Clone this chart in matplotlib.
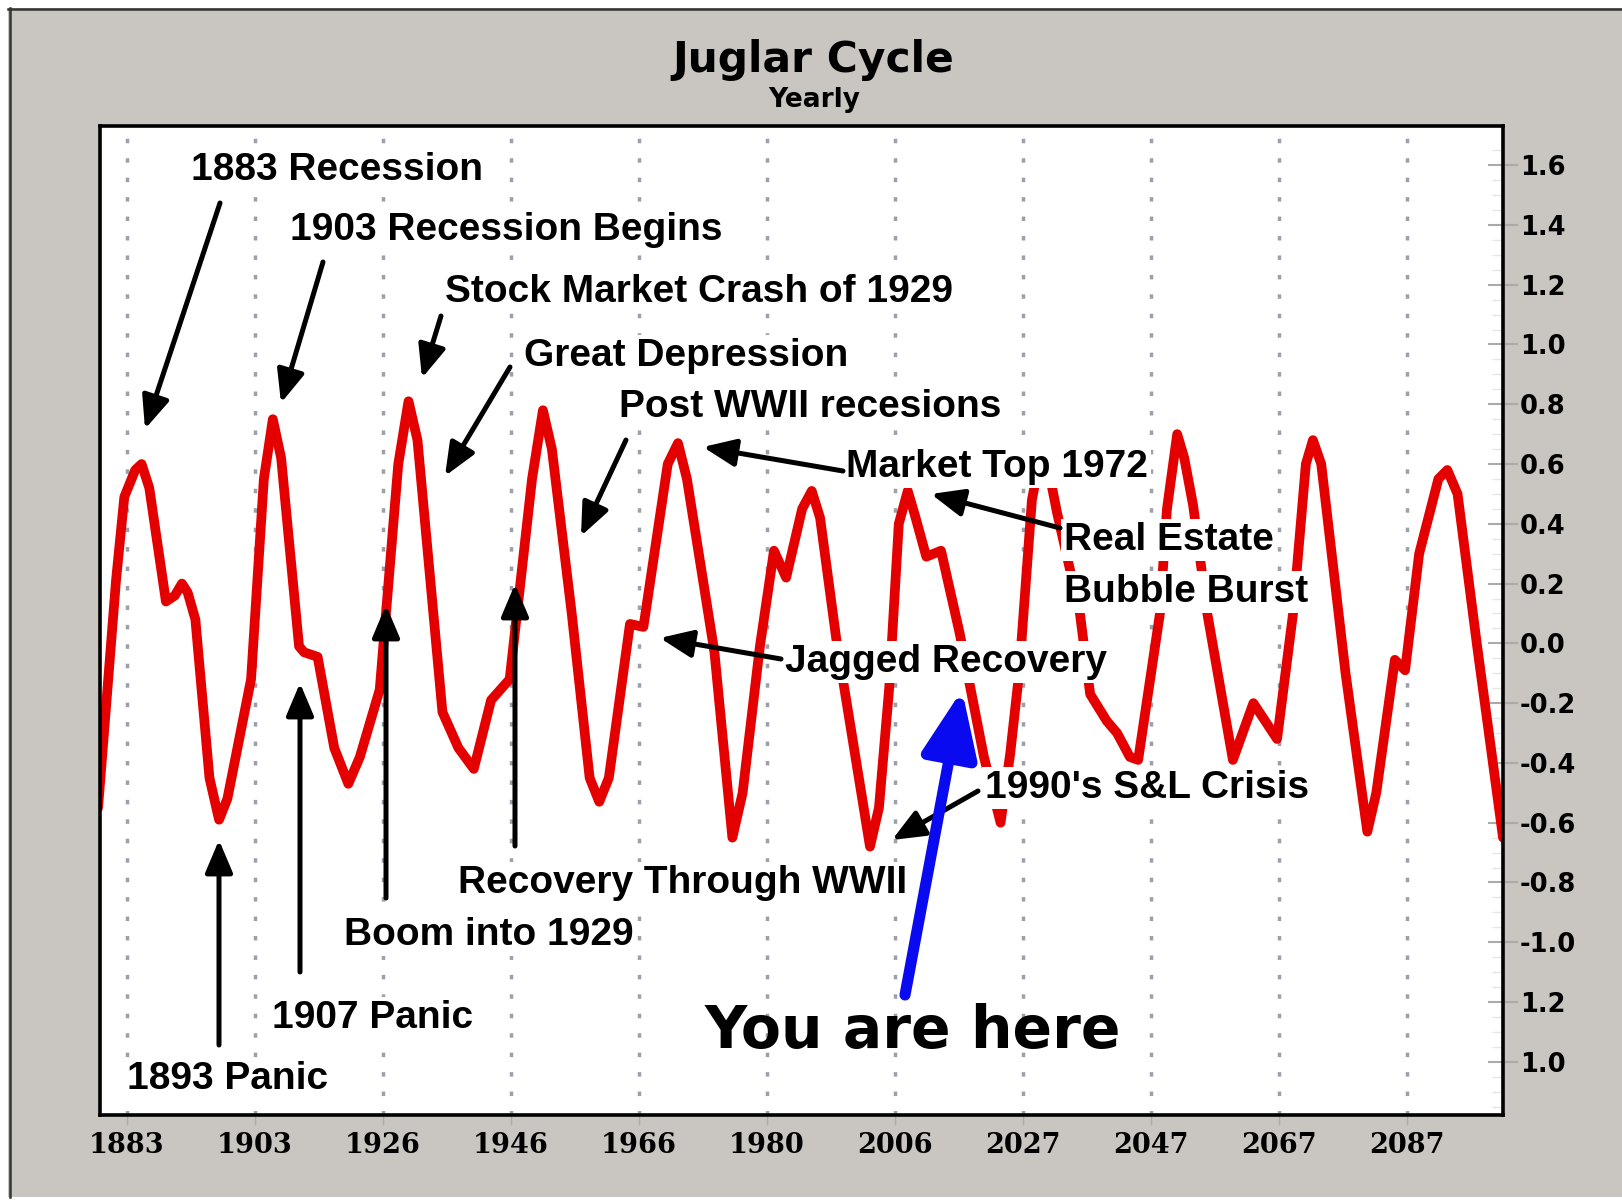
import matplotlib
matplotlib.use("Agg")
import matplotlib.pyplot as plt
from matplotlib.patches import Rectangle
from matplotlib.lines import Line2D

W, H, DPI = 1622, 1203, 100

# ---------------- data ----------------
years = [1878.5, 1881.3, 1882.6, 1884.3, 1885.3, 1886.5, 1889.1, 1890.5, 1891.6, 1892.5,
         1893.7, 1895.9, 1897.4, 1898.7, 1902.4, 1904.4, 1905.8, 1907.1, 1909.9, 1910.7,
         1912.8, 1915.4, 1917.6, 1919.4, 1922.5, 1925.4, 1927.0, 1928.4, 1932.3, 1934.8,
         1937.2, 1939.9, 1942.8, 1946.3, 1948.0, 1949.4, 1952.5, 1955.3, 1956.8, 1958.3,
         1961.6, 1963.7, 1967.5, 1969.1, 1970.5, 1974.8, 1977.6, 1979.2, 1981.9, 1984.1,
         1986.0, 1988.5, 1990.0, 1991.3, 1993.8, 1999.1, 2000.5, 2002.1, 2003.6, 2005.0,
         2006.1, 2007.9, 2010.2, 2013.1, 2016.9, 2019.5, 2021.0, 2022.4, 2024.4, 2025.3,
         2026.2, 2027.2, 2028.3, 2031.9, 2033.5, 2036.1, 2037.7, 2039.7, 2041.0, 2044.4,
         2045.5, 2047.1, 2048.2, 2049.6, 2051.8, 2055.8, 2059.0, 2062.7, 2065.2, 2067.2,
         2068.3, 2069.6, 2073.4, 2076.8, 2078.2, 2081.1, 2082.7, 2084.9, 2087.9, 2089.3,
         2090.9, 2093.9, 2098.0]
values = [-0.55, 0.21, 0.49, 0.58, 0.60, 0.52, 0.14, 0.16, 0.20, 0.17,
          0.08, -0.45, -0.59, -0.52, -0.12, 0.55, 0.75, 0.62, -0.01, -0.03,
          -0.045, -0.35, -0.47, -0.38, -0.155, 0.60, 0.81, 0.68, -0.23, -0.35,
          -0.42, -0.19, -0.12, 0.55, 0.78, 0.65, 0.10, -0.45, -0.53, -0.45,
          0.065, 0.055, 0.60, 0.67, 0.55, -0.03, -0.65, -0.50, -0.01, 0.31,
          0.22, 0.45, 0.51, 0.42, 0.02, -0.68, -0.55, -0.15, 0.40, 0.51,
          0.43, 0.29, 0.31, 0.035, -0.38, -0.60, -0.37, -0.10, 0.48, 0.58,
          0.61, 0.56, 0.44, 0.10, -0.17, -0.26, -0.30, -0.38, -0.39, 0.10,
          0.45, 0.70, 0.62, 0.46, 0.10, -0.39, -0.20, -0.32, 0.10, 0.60,
          0.68, 0.60, -0.10, -0.63, -0.50, -0.055, -0.09, 0.30, 0.55, 0.58,
          0.50, 0.0, -0.65]

xtick_pos = [1883, 1903, 1923, 1943, 1963, 1983, 2003, 2023, 2043, 2063, 2083]
xtick_labels = ["1883", "1903", "1926", "1946", "1966", "1980", "2006", "2027", "2047", "2067", "2087"]
ytick_pos = [1.6, 1.4, 1.2, 1.0, 0.8, 0.6, 0.4, 0.2, 0.0, -0.2, -0.4, -0.6, -0.8, -1.0, -1.2, -1.4]
ytick_labels = ["1.6", "1.4", "1.2", "1.0", "0.8", "0.6", "0.4", "0.2", "0.0",
                "-0.2", "-0.4", "-0.6", "-0.8", "-1.0", "1.2", "1.0"]

title = "Juglar Cycle"
subtitle = "Yearly"

# label texts: (text, left x px, baseline y px from top)
label_texts = ["1883 Recession", "1903 Recession Begins", "Stock Market Crash of 1929",
               "Great Depression", "Post WWII recesions", "Market Top 1972",
               "Real Estate", "Bubble Burst", "Jagged Recovery", "1990's S&L Crisis",
               "Recovery Through WWII", "Boom into 1929", "1907 Panic", "1893 Panic"]
label_pos = [(191, 180), (290, 240), (445, 302), (524, 366), (619, 417), (846, 477),
             (1064, 550), (1064, 602), (785, 672), (985, 798), (458, 893), (344, 945),
             (272, 1028), (127, 1089)]
# arrows: (tail px, head px)
arrow_pos = [((220, 203), (145, 429)), ((323, 262), (281, 403)), ((441, 316), (422, 378)),
             ((510, 367), (445, 476)), ((626, 440), (581, 536)), ((843, 471), (703, 447)),
             ((1060, 528), (931, 494)), ((781, 659), (660, 638)), ((978, 791), (892, 840)),
             ((515, 846), (515, 584)), ((386, 898), (386, 605)), ((300, 972), (300, 683)),
             ((219, 1045), (219, 840))]
here_text = "You are here"
here_pos = (705, 1048)
here_arrow = ((905, 995), (962, 690))

GRAY = "#c9c5c0"
RED = "#e50000"

fig = plt.figure(figsize=(W / DPI, H / DPI), dpi=DPI, facecolor="white")
# outer gray panel
fig.patches.append(Rectangle((8 / W, 1 - 1197 / H), 1.0, (1197 - 8) / H,
                             transform=fig.transFigure, facecolor=GRAY,
                             edgecolor="none", zorder=-5))
fig.lines.append(Line2D([8 / W, 1.0], [1 - 8.5 / H, 1 - 8.5 / H], transform=fig.transFigure,
                        color="#333333", lw=1.8, zorder=-4))
fig.lines.append(Line2D([9.5 / W, 9.5 / W], [1 - 1197 / H, 1 - 8 / H], transform=fig.transFigure,
                        color="#333333", lw=1.8, zorder=-4))

fig.text(813 / W, 1 - 72 / H, title, ha="center", va="baseline", fontsize=30.5,
         fontweight="bold", family="DejaVu Sans")
fig.text(814 / W, 1 - 107 / H, subtitle, ha="center", va="baseline", fontsize=19,
         fontweight="bold", family="DejaVu Sans")

ax = fig.add_axes([100 / W, 88 / H, 1403 / W, 989 / H])
ax.set_zorder(2)
ax.set_facecolor("white")
ax.set_xlim(1878.8, 2098.0)
ax.set_ylim(-1.578, 1.731)
for sp in ax.spines.values():
    sp.set_linewidth(2.6)
    sp.set_color("black")
    sp.set_zorder(6)

for x in xtick_pos:
    ax.axvline(x, color="#9aa1ad", lw=2.5, ls=(0, (1.3, 4.3)), zorder=0.5)

ax.plot(years, values, color=RED, lw=7, solid_joinstyle="round",
        solid_capstyle="round", zorder=2)

ax.set_xticks(xtick_pos)
ax.set_xticklabels(xtick_labels, fontsize=19.5, fontweight="bold", family="DejaVu Serif")
ax.tick_params(axis="x", direction="out", length=7, width=1, color="#aaaaaa", pad=5)

ax.yaxis.tick_right()
ax.set_yticks(ytick_pos)
ax.set_yticklabels(ytick_labels, fontsize=18.5, fontweight="bold", family="DejaVu Sans")
ax.tick_params(axis="y", direction="inout", length=22, width=1.5, color="#aaaaaa", pad=1)
ax.set_yticks([v / 20 for v in range(-31, 34)], minor=True)
ax.tick_params(axis="y", which="minor", direction="in", length=8, width=1, color="#e6e6e6")

for txt, (lx, by) in zip(label_texts, label_pos):
    ax.text(lx / W, 1 - by / H, txt, transform=fig.transFigure, ha="left", va="baseline",
            fontsize=28, fontweight="bold", family="Liberation Sans", zorder=4,
            bbox=dict(facecolor="white", edgecolor="none", pad=2))

for (tx, ty), (hx, hy) in arrow_pos:
    ax.annotate("", xy=(hx, H - hy), xycoords="figure pixels",
                xytext=(tx, H - ty), textcoords="figure pixels", zorder=5,
                arrowprops=dict(arrowstyle="-|>,head_length=0.9,head_width=0.38",
                                color="black", lw=3.6, mutation_scale=22,
                                shrinkA=0, shrinkB=0))

ax.text(here_pos[0] / W, 1 - here_pos[1] / H, here_text, transform=fig.transFigure,
        ha="left", va="baseline", fontsize=42, fontweight="bold", family="DejaVu Sans",
        zorder=4)
(tx, ty), (hx, hy) = here_arrow
ax.annotate("", xy=(hx, H - hy), xycoords="figure pixels",
            xytext=(tx, H - ty), textcoords="figure pixels", zorder=5,
            arrowprops=dict(arrowstyle="-|>,head_length=1.05,head_width=0.44",
                            color="#0a0af0", lw=8, mutation_scale=38,
                            shrinkA=0, shrinkB=0, capstyle="round"))

fig.savefig("out.png", dpi=DPI, facecolor="white")
